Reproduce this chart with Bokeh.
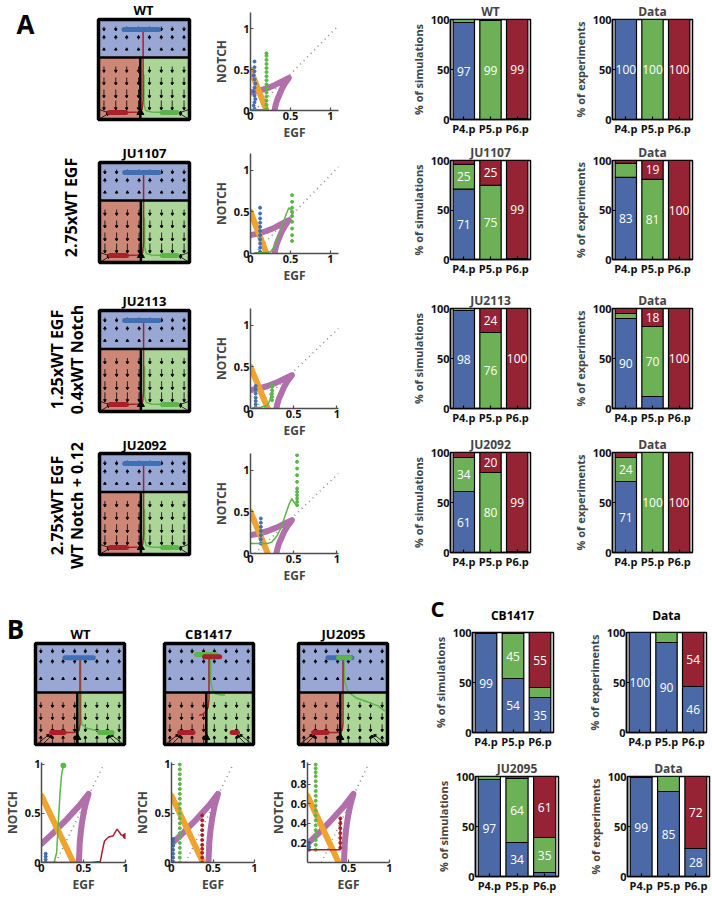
import math
import numpy as np
from bokeh.plotting import figure
from bokeh.models import Range1d, Label, FixedTicker
from bokeh.layouts import row, column
from bokeh.embed import file_html
from bokeh.resources import INLINE
from bokeh.core.properties import value

FONT = "Open Sans"

# ---------------------------------------------------------------- data
CELLS = ["P4.p", "P5.p", "P6.p"]
CELL_POS = [1, 2, 3]
BAR_TICKS = [0, 50, 100]

# fates per cell (P4.p, P5.p, P6.p): _1 = 1° (blue), _2 = 2° (green), _3 = 3° (red)
WT_SIM_1, WT_SIM_2, WT_SIM_3 = [97, 0, 0], [3, 99, 1], [0, 1, 99]
WT_DAT_1, WT_DAT_2, WT_DAT_3 = [100, 0, 0], [0, 100, 0], [0, 0, 100]
JU1107_SIM_1, JU1107_SIM_2, JU1107_SIM_3 = [71, 0, 0], [25, 75, 1], [4, 25, 99]
JU1107_DAT_1, JU1107_DAT_2, JU1107_DAT_3 = [83, 0, 0], [14, 81, 0], [3, 19, 100]
JU2113_SIM_1, JU2113_SIM_2, JU2113_SIM_3 = [98, 0, 0], [2, 76, 0], [0, 24, 100]
JU2113_DAT_1, JU2113_DAT_2, JU2113_DAT_3 = [90, 12, 0], [5, 70, 0], [5, 18, 100]
JU2092_SIM_1, JU2092_SIM_2, JU2092_SIM_3 = [61, 0, 0], [34, 80, 1], [5, 20, 99]
JU2092_DAT_1, JU2092_DAT_2, JU2092_DAT_3 = [71, 0, 0], [24, 100, 0], [5, 0, 100]
CB1417_SIM_1, CB1417_SIM_2, CB1417_SIM_3 = [99, 54, 35], [0, 45, 10], [1, 1, 55]
CB1417_DAT_1, CB1417_DAT_2, CB1417_DAT_3 = [100, 90, 46], [0, 10, 0], [0, 0, 54]
JU2095_SIM_1, JU2095_SIM_2, JU2095_SIM_3 = [97, 34, 4], [3, 64, 35], [0, 2, 61]
JU2095_DAT_1, JU2095_DAT_2, JU2095_DAT_3 = [99, 85, 28], [0, 15, 0], [1, 0, 72]

# nullcline plots
NULL_TICKS = [0, 0.5, 1]
NULL_TICK_LABELS = ["0", "0.5", "1"]
FINE_TICKS = [0.2, 0.4, 0.6, 0.8, 1]
FINE_TICK_LABELS = ["0.2", "0.4", "0.6", "0.8", "1"]
HALF_TICKS = [0.5, 1]
HALF_TICK_LABELS = ["0.5", "1"]

A_DIAG_X, A_DIAG_Y = [0.05, 1.1], [0.0, 1.04]
A_ORANGE_X, A_ORANGE_Y = [0.0, 0.2], [0.5, 0.0]
A_PURPLE_X = [0.0, 0.1, 0.2, 0.3, 0.4, 0.48, 0.43, 0.39, 0.36, 0.33, 0.31, 0.30]
A_PURPLE_Y = [0.22, 0.24, 0.27, 0.31, 0.36, 0.40, 0.33, 0.26, 0.19, 0.12, 0.05, 0.0]
B_DIAG_X, B_DIAG_Y = [0.17, 0.73], [0.0, 0.98]
B_ORANGE_X, B_ORANGE_Y = [0.0, 0.38], [0.68, 0.0]
B_PURPLE_X = [0.0, 0.15, 0.3, 0.45, 0.56, 0.52, 0.49, 0.47, 0.455, 0.45, 0.445]
B_PURPLE_Y = [0.19, 0.31, 0.44, 0.58, 0.70, 0.58, 0.45, 0.33, 0.2, 0.1, 0.0]

A1_BLUE_X = [0.05, 0.04, 0.05, 0.06, 0.05, 0.04, 0.05, 0.06, 0.05, 0.04, 0.05, 0.05, 0.05]
A1_BLUE_Y = [0.02, 0.06, 0.1, 0.14, 0.18, 0.23, 0.28, 0.33, 0.38, 0.43, 0.48, 0.53, 0.6]
A1_GREEN_PX = [0.2] * 15
A1_GREEN_PY = [0.02, 0.07, 0.12, 0.17, 0.22, 0.27, 0.32, 0.37, 0.42, 0.47, 0.52, 0.57, 0.62, 0.67, 0.7]
A1_GREEN_LX, A1_GREEN_LY = [0.0, 0.2], [0.01, 0.01]

A2_BLUE_X = [0.12] * 11
A2_BLUE_Y = [0.02, 0.07, 0.12, 0.17, 0.22, 0.27, 0.32, 0.37, 0.42, 0.48, 0.55]
A2_GREEN_LX = [0.05, 0.15, 0.25, 0.3, 0.35, 0.4, 0.45, 0.48, 0.51, 0.52]
A2_GREEN_LY = [0.01, 0.01, 0.02, 0.08, 0.2, 0.35, 0.48, 0.55, 0.52, 0.45]
A2_GREEN_PX = [0.52] * 9
A2_GREEN_PY = [0.15, 0.22, 0.3, 0.38, 0.45, 0.5, 0.55, 0.62, 0.7]

A3_BLUE_X = [0.06] * 7
A3_BLUE_Y = [0.01, 0.05, 0.09, 0.13, 0.18, 0.23, 0.27]
A3_GREEN_LX = [0.02, 0.12, 0.2, 0.23, 0.245]
A3_GREEN_LY = [0.01, 0.015, 0.04, 0.12, 0.2]
A3_GREEN_PX = [0.25] * 6
A3_GREEN_PY = [0.1, 0.14, 0.18, 0.22, 0.26, 0.28]

A4_BLUE_X = [0.12] * 7
A4_BLUE_Y = [0.12, 0.17, 0.22, 0.27, 0.32, 0.37, 0.42]
A4_GREEN_LX = [0.0, 0.2, 0.25, 0.3, 0.35, 0.4, 0.45, 0.48, 0.5, 0.53]
A4_GREEN_LY = [0.12, 0.12, 0.14, 0.2, 0.3, 0.45, 0.6, 0.66, 0.62, 0.58]
A4_GREEN_PX = [0.54] * 11
A4_GREEN_PY = [0.58, 0.62, 0.66, 0.7, 0.74, 0.78, 0.86, 0.94, 1.02, 1.1, 1.18]

BWT_BLUE_X, BWT_BLUE_Y = [0.05, 0.05, 0.05, 0.05], [0.0, 0.03, 0.06, 0.09]
BWT_GREEN_LX = [0.0, 0.15, 0.18, 0.2, 0.22, 0.24, 0.26]
BWT_GREEN_LY = [0.0, 0.0, 0.1, 0.4, 0.7, 0.9, 0.99]
BWT_RED_LX = [0.0, 0.3, 0.6, 0.7, 0.72, 0.75, 0.8, 0.85, 0.9, 0.95, 1.0]
BWT_RED_LY = [0.0, 0.0, 0.0, 0.01, 0.1, 0.22, 0.26, 0.27, 0.34, 0.28, 0.27]
BWT_END_X, BWT_END_Y = [0.26], [0.99]
BWT_REDEND_X, BWT_REDEND_Y = [1.0], [0.27]

BCB_BLUE_X = [0.02] * 7
BCB_BLUE_Y = [0.01, 0.05, 0.09, 0.13, 0.17, 0.21, 0.24]
BCB_GREEN_PX = [0.1] * 21
BCB_GREEN_PY = [0.0, 0.05, 0.1, 0.15, 0.2, 0.25, 0.3, 0.35, 0.4, 0.45, 0.5, 0.55,
                0.6, 0.65, 0.7, 0.75, 0.8, 0.85, 0.9, 0.95, 1.0]
BCB_RED_LX, BCB_RED_LY = [0.0, 0.37], [0.0, 0.0]
BCB_RED_PX = [0.37] * 11
BCB_RED_PY = [0.0, 0.05, 0.1, 0.14, 0.18, 0.23, 0.28, 0.33, 0.38, 0.43, 0.48]

BJU_BLUE_X, BJU_BLUE_Y = [0.02, 0.02, 0.02], [0.13, 0.16, 0.2]
BJU_GREEN_PX = [0.1] * 19
BJU_GREEN_PY = [0.13, 0.18, 0.23, 0.28, 0.33, 0.38, 0.43, 0.48, 0.53, 0.58, 0.63,
                0.68, 0.73, 0.78, 0.83, 0.88, 0.92, 0.96, 1.0]
BJU_RED_LX, BJU_RED_LY = [0.0, 0.4, 0.4], [0.13, 0.13, 0.45]
BJU_RED_PX = [0.4] * 7
BJU_RED_PY = [0.15, 0.2, 0.25, 0.3, 0.35, 0.4, 0.45]

# phase-portrait schematics (box coordinates 0..1)
A_SPLIT_X, A_SPLIT_Y = 0.46, 0.62
B_SPLIT_X, B_SPLIT_Y = 0.47, 0.515
GRID_COLS = [0.06, 0.19, 0.31, 0.44, 0.56, 0.69, 0.81, 0.94]
A_ROWS_Y = [0.93, 0.8, 0.69, 0.53, 0.42, 0.3, 0.19]
A_ROWS_DY = [-0.03, 0.025, 0.012, -0.045, -0.06, -0.07, -0.08]
A_CORNER = ([0.0, 0.01, 1.0, 0.99], [0.0, 0.1, 0.0, 0.1],
            [0.1, 0.1, 0.9, 0.9], [0.055, 0.07, 0.055, 0.07])
B_ROWS_Y = [0.95, 0.8, 0.64, 0.42, 0.31, 0.2, 0.01]
B_ROWS_DY = [-0.03, 0.025, 0.012, -0.04, -0.05, -0.06, 0.06]
B_CORNER = ([0.01, 0.08, 0.99, 0.92], [0.0, 0.0, 0.0, 0.0],
            [0.14, 0.17, 0.86, 0.83], [0.09, 0.08, 0.09, 0.08])

A_BLOBS = [(0.28, 0.66, 0.9, "pb"), (0.12, 0.3, 0.07, "pr"), (0.7, 0.86, 0.07, "pg")]
A_TRAJ = [([0.5, 0.5, 0.52, 0.58, 0.72, 0.84], [0.45, 0.15, 0.09, 0.075, 0.07, 0.07], "pg"),
          ([0.49, 0.49, 0.48, 0.44, 0.3, 0.18], [0.9, 0.2, 0.1, 0.075, 0.07, 0.07], "pr")]
BWT_BLOBS = [(0.33, 0.65, 0.86, "pb"), (0.18, 0.32, 0.12, "pr"), (0.72, 0.86, 0.12, "pg")]
BWT_TRAJ = [([0.51, 0.51, 0.52, 0.58, 0.72, 0.82], [0.86, 0.3, 0.2, 0.16, 0.13, 0.12], "pg"),
            ([0.5, 0.5, 0.49, 0.45, 0.32, 0.22], [0.86, 0.2, 0.14, 0.12, 0.12, 0.12], "pr")]
BCB_BLOBS = [(0.36, 0.58, 0.89, "pg"), (0.45, 0.62, 0.87, "pr"), (0.17, 0.32, 0.12, "pr"),
             (0.76, 0.82, 0.12, "pr")]
BCB_TRAJ = [([0.52, 0.52, 0.54, 0.58, 0.64, 0.68], [0.88, 0.62, 0.54, 0.5, 0.49, 0.49], "pg"),
            ([0.5, 0.5, 0.49, 0.47, 0.43, 0.39], [0.88, 0.45, 0.37, 0.33, 0.3, 0.29], "pr")]
BJU_BLOBS = [(0.33, 0.6, 0.86, "pb"), (0.45, 0.58, 0.86, "pg"), (0.17, 0.32, 0.12, "pr")]
BJU_TRAJ = [([0.51, 0.52, 0.56, 0.65, 0.78, 0.9, 0.97], [0.86, 0.62, 0.52, 0.46, 0.42, 0.38, 0.33], "pg"),
            ([0.5, 0.5, 0.49, 0.45, 0.32, 0.22], [0.86, 0.2, 0.14, 0.12, 0.12, 0.12], "pr")]

# ---------------------------------------------------------------- colours
BLUE, GREEN, RED = "#4a69a6", "#6cb155", "#962334"
REG_BLUE, REG_RED, REG_GREEN = "#98a7d3", "#cd8777", "#acd598"
PT = {"pb": "#3f6fb5", "pg": "#5cb548", "pr": "#a8202c"}
PURPLE, ORANGE = "#b16fab", "#f0a32f"
ROT = math.pi / 2


def base_fig(w, h, bl, bt, br, bb, xr, yr, axes=True):
    kw = dict(width=w, height=h, x_range=Range1d(*xr), y_range=Range1d(*yr),
              output_backend="svg", toolbar_location=None,
              min_border_left=bl, min_border_right=br, min_border_top=bt, min_border_bottom=bb)
    if not axes:
        kw.update(x_axis_type=None, y_axis_type=None)
    p = figure(**kw)
    p.grid.visible = False
    p.outline_line_color = None
    p.border_fill_color = "white"
    p.background_fill_color = "white"
    return p


def label(p, x, y, text, size, bold=True, angle=0.0, color="black"):
    p.add_layout(Label(x=x, y=y, text=text, text_font=FONT,
                       text_font_size=size, text_font_style="bold" if bold else "normal",
                       text_color=color, angle=angle, text_align="center", text_baseline="middle"))


def style_axis(ax, color, size="11px"):
    ax.major_tick_in = 3
    ax.major_tick_out = 0
    ax.minor_tick_line_color = None
    ax.axis_line_color = color
    ax.axis_line_width = 1.5
    ax.major_tick_line_color = color
    ax.major_tick_line_width = 1.2
    ax.major_label_text_font = FONT
    ax.major_label_text_font_style = "bold"
    ax.major_label_text_font_size = size
    ax.major_label_text_color = "#111111"
    ax.major_label_standoff = 1
    ax.axis_label_text_font = FONT
    ax.axis_label_text_font_style = "bold"
    ax.axis_label_text_font_size = "11px"
    ax.axis_label_standoff = 1


def bar_chart(w, h, bl, bt, br, bb, blue, green, red, title, ylabel):
    p = base_fig(w, h, bl, bt, br, bb, (0.5, 3.5), (0, 100))
    xs = np.array(CELL_POS, float)
    bottom = np.zeros(3)
    for vals, col in ((blue, BLUE), (green, GREEN), (red, RED)):
        v = np.array(vals, float)
        m = v > 0
        p.vbar(x=xs[m], bottom=bottom[m], top=(bottom + v)[m], width=0.8,
               fill_color=col, line_color="black", line_width=1.2)
        lm = v >= 17
        if lm.any():
            p.text(x=xs[lm], y=(bottom + v / 2)[lm], text=[str(int(t)) for t in v[lm]],
                   text_color="white", text_font=value(FONT), text_font_size="12px",
                   text_align="center", text_baseline="middle")
        bottom = bottom + v
    p.outline_line_color = "black"
    p.outline_line_width = 1.5
    p.xaxis.ticker = FixedTicker(ticks=CELL_POS)
    p.xaxis.major_label_overrides = dict(zip(CELL_POS, CELLS))
    p.yaxis.ticker = FixedTicker(ticks=BAR_TICKS)
    style_axis(p.xaxis[0], "black")
    style_axis(p.yaxis[0], "black")
    p.xaxis.axis_label = None
    p.yaxis.axis_label = ylabel
    p.yaxis.axis_label_standoff = 2
    if title:
        p.title.text = title
        p.title.align = "center"
        p.title.text_font = FONT
        p.title.text_font_size = "12px"
        p.title.text_font_style = "bold"
        p.title.standoff = 0
    return p


def nullcline(w, h, bl, bt, br, bb, xmax, ymax, diag, orange, purple, extras,
              xt=NULL_TICKS, xtl=NULL_TICK_LABELS, yt=NULL_TICKS, ytl=NULL_TICK_LABELS):
    p = base_fig(w, h, bl, bt, br, bb, (0, xmax), (0, ymax))
    p.line(diag[0], diag[1], line_color="#8c8c8c", line_width=1.6, line_dash="1 4")
    p.line(purple[0], purple[1], line_color=PURPLE, line_width=6, line_join="round", line_cap="round")
    p.line(orange[0], orange[1], line_color=ORANGE, line_width=6, line_cap="round")
    for kind, xs, ys, col in extras:
        if kind == "line":
            p.line(xs, ys, line_color=PT[col], line_width=1.5)
        elif kind == "pts":
            p.scatter(xs, ys, size=3, color=PT[col])
        elif kind == "end":
            p.scatter(xs, ys, size=5, color=PT[col])
    p.xaxis.ticker = FixedTicker(ticks=xt)
    p.xaxis.major_label_overrides = dict(zip(xt, xtl))
    p.yaxis.ticker = FixedTicker(ticks=yt)
    p.yaxis.major_label_overrides = dict(zip(yt, ytl))
    style_axis(p.xaxis[0], "#4d4d4d")
    style_axis(p.yaxis[0], "#4d4d4d")
    p.xaxis.axis_label = "EGF"
    p.yaxis.axis_label = "NOTCH"
    p.xaxis.axis_label_text_font_size = "12px"
    p.yaxis.axis_label_text_font_size = "12px"
    return p


def phase_box(ox, oy, W, H, bx, by, bw, bh, sx, sy, rows_y, rows_dy, corner, blobs, trajs, texts):
    """Schematic phase portrait; the frame fills the whole canvas so that the
    surrounding texts (titles, row labels, panel letters) are drawn inside it."""
    L, T = bx - ox, by - oy
    p = base_fig(W, H, 0, 0, 0, 0, (-L / bw, (W - L) / bw), (-(H - T - bh) / bh, 1 + T / bh), axes=False)
    p.quad(left=[0], right=[1], bottom=[sy], top=[1], fill_color=REG_BLUE, line_color=None)
    p.quad(left=[0], right=[sx], bottom=[0], top=[sy], fill_color=REG_RED, line_color=None)
    p.quad(left=[sx], right=[1], bottom=[0], top=[sy], fill_color=REG_GREEN, line_color=None)
    x0, y0, x1, y1 = [], [], [], []
    for yy, dy in zip(rows_y, rows_dy):
        for xx in GRID_COLS:
            x0.append(xx); y0.append(yy); x1.append(xx); y1.append(yy + dy)
    x0 += corner[0]; y0 += corner[1]; x1 += corner[2]; y1 += corner[3]
    ang = [math.atan2(b1 - b0, a1 - a0) - math.pi / 2 for a0, b0, a1, b1 in zip(x0, y0, x1, y1)]
    p.segment(x0=x0, y0=y0, x1=x1, y1=y1, line_color="black", line_width=0.8)
    p.scatter(x1, y1, marker="triangle", size=2.6, angle=ang, color="black")
    for xs, ys, col in trajs:
        p.line(xs, ys, line_color=PT[col], line_width=1.5)
    for a, b, y, col in blobs:
        p.segment(x0=[a], y0=[y], x1=[b], y1=[y], line_color=PT[col], line_width=5, line_cap="round")
    p.segment(x0=[0, sx], y0=[sy, 0], x1=[1, sx], y1=[sy, sy], line_color="black", line_width=2.5)
    p.scatter([sx], [0.07], marker="triangle", size=7, color="black")
    p.quad(left=[0], right=[1], bottom=[0], top=[1], fill_color=None, line_color="black", line_width=3.5)
    for px, py, text, size, rot in texts:
        label(p, (px - bx) / bw, 1 - (py - by) / bh, text, size, angle=rot)
    return p


def a_box(oy, H, box, texts):
    return phase_box(0, oy, 200, H, box[0], box[1], box[2], box[3], A_SPLIT_X, A_SPLIT_Y,
                     A_ROWS_Y, A_ROWS_DY, A_CORNER, A_BLOBS, A_TRAJ, texts)


def a_null(H, bt, bb, xmax, extras):
    return nullcline(145, H, 50, bt, 7, bb, xmax, 1.2,
                     (A_DIAG_X, A_DIAG_Y), (A_ORANGE_X, A_ORANGE_Y), (A_PURPLE_X, A_PURPLE_Y), extras)


# ---------------------------------------------------------------- panel A (built column by column)
col_box = column(
    a_box(0, 141, (98, 19, 91, 100), [(143, 9, "WT", "13px", 0), (25, 23, "A", "26px", 0)]),
    a_box(141, 145, (99, 162, 90, 100), [(144, 152, "JU1107", "13px", 0),
                                         (70, 207, "2.75xWT EGF", "16px", ROT)]),
    a_box(286, 148, (99, 310, 90, 101), [(144, 300, "JU2113", "13px", 0),
                                         (56, 359, "1.25xWT EGF", "16px", ROT),
                                         (76, 359, "0.4xWT Notch", "16px", ROT)]),
    a_box(434, 156, (99, 453, 90, 101), [(144, 444, "JU2092", "13px", 0),
                                         (56, 505, "2.75xWT EGF", "16px", ROT),
                                         (76, 505, "WT Notch + 0.12", "16px", ROT)]),
)
col_null = column(
    a_null(148, 12, 38, 1.1, [("pts", A1_BLUE_X, A1_BLUE_Y, "pb"), ("line", A1_GREEN_LX, A1_GREEN_LY, "pg"),
                              ("pts", A1_GREEN_PX, A1_GREEN_PY, "pg")]),
    a_null(150, 5, 45, 1.1, [("pts", A2_BLUE_X, A2_BLUE_Y, "pb"), ("line", A2_GREEN_LX, A2_GREEN_LY, "pg"),
                             ("pts", A2_GREEN_PX, A2_GREEN_PY, "pg")]),
    a_null(148, 10, 38, 1.02, [("pts", A3_BLUE_X, A3_BLUE_Y, "pb"), ("line", A3_GREEN_LX, A3_GREEN_LY, "pg"),
                               ("pts", A3_GREEN_PX, A3_GREEN_PY, "pg")]),
    a_null(144, 7, 37, 1.02, [("pts", A4_BLUE_X, A4_BLUE_Y, "pb"), ("line", A4_GREEN_LX, A4_GREEN_LY, "pg"),
                              ("pts", A4_GREEN_PX, A4_GREEN_PY, "pg")]),
)
BAR_ROWS = [(141, 18, 22), (145, 17, 27), (146, 22, 24), (158, 20, 38)]
SIM_SETS = [(WT_SIM_1, WT_SIM_2, WT_SIM_3, "WT"), (JU1107_SIM_1, JU1107_SIM_2, JU1107_SIM_3, "JU1107"),
            (JU2113_SIM_1, JU2113_SIM_2, JU2113_SIM_3, "JU2113"), (JU2092_SIM_1, JU2092_SIM_2, JU2092_SIM_3, "JU2092")]
DAT_SETS = [(WT_DAT_1, WT_DAT_2, WT_DAT_3), (JU1107_DAT_1, JU1107_DAT_2, JU1107_DAT_3),
            (JU2113_DAT_1, JU2113_DAT_2, JU2113_DAT_3), (JU2092_DAT_1, JU2092_DAT_2, JU2092_DAT_3)]
col_sim = column(*[bar_chart(195, h, 105, bt, 10, bb, s[0], s[1], s[2], s[3], "% of simulations")
                   for (h, bt, bb), s in zip(BAR_ROWS, SIM_SETS)])
col_dat = column(*[bar_chart(172, h, 72, bt, 20, bb, d[0], d[1], d[2], "Data", "% of experiments")
                   for (h, bt, bb), d in zip(BAR_ROWS, DAT_SETS)])
panel_a = row(col_box, col_null, col_sim, col_dat)

# ---------------------------------------------------------------- panel B
B_OY, B_BOX_H, B_NULL_H = 590, 162, 146
bw_box = phase_box(0, B_OY, 130, B_BOX_H, 35, 643, 89, 101, B_SPLIT_X, B_SPLIT_Y, B_ROWS_Y, B_ROWS_DY,
                   B_CORNER, BWT_BLOBS, BWT_TRAJ, [(80, 633, "WT", "13px", 0), (15, 628, "B", "26px", 0)])
bc_box = phase_box(130, B_OY, 136, B_BOX_H, 164, 643, 89, 101, B_SPLIT_X, B_SPLIT_Y, B_ROWS_Y, B_ROWS_DY,
                   B_CORNER, BCB_BLOBS, BCB_TRAJ, [(208, 633, "CB1417", "13px", 0)])
bj_box = phase_box(266, B_OY, 154, B_BOX_H, 298, 643, 89, 101, B_SPLIT_X, B_SPLIT_Y, B_ROWS_Y, B_ROWS_DY,
                   B_CORNER, BJU_BLOBS, BJU_TRAJ, [(343, 633, "JU2095", "13px", 0)])

bw_null = nullcline(130, B_NULL_H, 37, 10, 5, 36, 1.0, 1.02,
                    (B_DIAG_X, B_DIAG_Y), (B_ORANGE_X, B_ORANGE_Y), (B_PURPLE_X, B_PURPLE_Y),
                    [("pts", BWT_BLUE_X, BWT_BLUE_Y, "pb"), ("line", BWT_GREEN_LX, BWT_GREEN_LY, "pg"),
                     ("line", BWT_RED_LX, BWT_RED_LY, "pr"), ("end", BWT_END_X, BWT_END_Y, "pg"),
                     ("end", BWT_REDEND_X, BWT_REDEND_Y, "pr")])
bc_null = nullcline(136, B_NULL_H, 36, 10, 12, 36, 1.0, 1.02,
                    (B_DIAG_X, B_DIAG_Y), (B_ORANGE_X, B_ORANGE_Y), (B_PURPLE_X, B_PURPLE_Y),
                    [("pts", BCB_BLUE_X, BCB_BLUE_Y, "pb"), ("line", BCB_RED_LX, BCB_RED_LY, "pr"),
                     ("pts", BCB_GREEN_PX, BCB_GREEN_PY, "pg"), ("pts", BCB_RED_PX, BCB_RED_PY, "pr")])
bj_null = nullcline(154, B_NULL_H, 35, 10, 31, 36, 1.0, 1.02,
                    (B_DIAG_X, B_DIAG_Y), (B_ORANGE_X, B_ORANGE_Y), (B_PURPLE_X, B_PURPLE_Y),
                    [("pts", BJU_BLUE_X, BJU_BLUE_Y, "pb"), ("pts", BJU_GREEN_PX, BJU_GREEN_PY, "pg"),
                     ("line", BJU_RED_LX, BJU_RED_LY, "pr"), ("pts", BJU_RED_PX, BJU_RED_PY, "pr")],
                    xt=HALF_TICKS, xtl=HALF_TICK_LABELS, yt=FINE_TICKS, ytl=FINE_TICK_LABELS)
panel_b = column(row(bw_box, bc_box, bj_box), row(bw_null, bc_null, bj_null))

# ---------------------------------------------------------------- panel C
C_HEAD_H = 34
c_head = base_fig(292, C_HEAD_H, 0, 0, 0, 0, (0, 292), (C_HEAD_H, 0), axes=False)
label(c_head, 17, 17, "C", "22px")
label(c_head, 92, 25, "CB1417", "12px")
label(c_head, 246, 25, "Data", "12px")
c1s = bar_chart(140, 128, 52, 8, 7, 20, CB1417_SIM_1, CB1417_SIM_2, CB1417_SIM_3, None, "% of simulations")
c1d = bar_chart(152, 128, 66, 8, 6, 20, CB1417_DAT_1, CB1417_DAT_2, CB1417_DAT_3, None, "% of experiments")
c2s = bar_chart(142, 146, 55, 24, 4, 22, JU2095_SIM_1, JU2095_SIM_2, JU2095_SIM_3, "JU2095", "% of simulations")
c2d = bar_chart(150, 146, 65, 24, 3, 22, JU2095_DAT_1, JU2095_DAT_2, JU2095_DAT_3, "Data", "% of experiments")
panel_c = column(c_head, row(c1s, c1d), row(c2s, c2d))

layout = column(panel_a, row(panel_b, panel_c))

open("out.html", "w").write(file_html(layout, INLINE))
